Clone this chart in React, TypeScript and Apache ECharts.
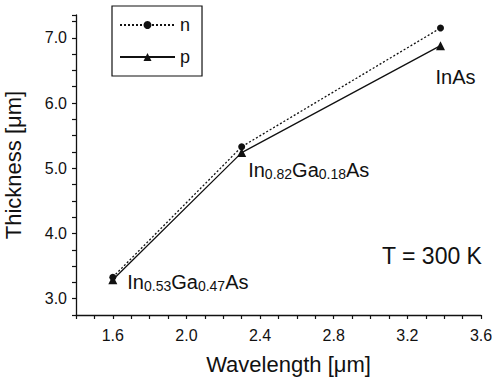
import React, { useEffect, useRef } from "react";
import * as echarts from "echarts";

const wavelengths = [1.6, 2.3, 3.38];
const nThickness = [3.33, 5.33, 7.15];
const pThickness = [3.29, 5.24, 6.88];
const compoundLabels = [
  "{n|In}{s|0.53}{n|Ga}{s|0.47}{n|As}",
  "{n|In}{s|0.82}{n|Ga}{s|0.18}{n|As}",
  "{n|InAs}",
];
const seriesNames = ["n", "p"];
const annotation = "T = 300 K";
const xTitle = "Wavelength [\u03bcm]";
const yTitle = "Thickness [\u03bcm]";

const FONT = "'Liberation Sans', Arial, sans-serif";

const labelPlacements = [
  { position: "right", distance: 8, offset: [2, 2] },
  { position: "right", distance: 5, offset: [-3, 17] },
  { position: "bottom", distance: 5, offset: [15, 12] },
];

export default function App() {
  const ref = useRef<HTMLDivElement>(null);
  useEffect(() => {
    if (!ref.current) return;
    document.body.style.margin = "0";
    const chart = echarts.init(ref.current, null, { renderer: "svg" });
    const rich = {
      n: { fontSize: 20, fontFamily: FONT, color: "#111" },
      s: { fontSize: 14, fontFamily: FONT, color: "#111", padding: [8, 0, 0, 0] },
    };
    chart.setOption({
      animation: false,
      backgroundColor: "#fff",
      grid: { left: 76, right: 11, top: 15, bottom: 65, containLabel: false, outerBoundsMode: "none" },
      legend: {
        left: 112,
        top: 6,
        orient: "vertical",
        borderColor: "#111",
        borderWidth: 1.2,
        padding: [10, 12, 10, 7],
        itemWidth: 55,
        itemHeight: 10,
        itemGap: 14,
        textStyle: { fontSize: 18, fontFamily: FONT, color: "#111" },
        data: seriesNames,
      },
      xAxis: {
        type: "value",
        min: 1.4,
        max: 3.6,
        interval: 0.1,
        splitLine: { show: false },
        axisLine: { lineStyle: { color: "#111", width: 1.3 } },
        axisTick: { length: 4, lineStyle: { color: "#111", width: 1.2 } },
        axisLabel: {
          margin: 12,
          fontSize: 16,
          fontFamily: FONT,
          color: "#111",
          showMinLabel: true,
          showMaxLabel: true,
          hideOverlap: false,
          formatter: (v: number) => {
            const k = Math.round(v * 10);
            return k % 4 === 0 ? (k / 10).toFixed(1) : "";
          },
        },
        name: xTitle,
        nameLocation: "middle",
        nameGap: 38,
        nameTextStyle: { fontSize: 22, fontFamily: FONT, color: "#111", padding: [0, 0, 0, 20] },
      },
      yAxis: {
        type: "value",
        min: 2.75,
        max: 7.35,
        interval: 0.25,
        splitLine: { show: false },
        axisLine: { show: true, lineStyle: { color: "#111", width: 1.3 } },
        axisTick: { show: true, length: 4, lineStyle: { color: "#111", width: 1.2 } },
        axisLabel: {
          margin: 9,
          fontSize: 16,
          fontFamily: FONT,
          color: "#111",
          formatter: (v: number) => {
            const k = Math.round(v * 4);
            return k % 4 === 0 ? (k / 4).toFixed(1) : "";
          },
        },
        name: yTitle,
        nameLocation: "middle",
        nameGap: 52,
        nameTextStyle: { fontSize: 22, fontFamily: FONT, color: "#111" },
      },
      series: [
        {
          name: seriesNames[0],
          type: "line",
          data: wavelengths.map((x, i) => [x, nThickness[i]]),
          symbol: "circle",
          symbolSize: 7,
          itemStyle: { color: "#111" },
          lineStyle: { color: "#111", width: 1.3, type: [2, 2] },
          z: 3,
        },
        {
          name: seriesNames[1],
          type: "line",
          data: wavelengths.map((x, i) => ({
            value: [x, pThickness[i]],
            label: {
              show: true,
              formatter: compoundLabels[i],
              rich,
              position: labelPlacements[i].position,
              distance: labelPlacements[i].distance,
              offset: labelPlacements[i].offset,
            },
          })),
          symbol: "triangle",
          symbolSize: 9,
          itemStyle: { color: "#111" },
          lineStyle: { color: "#111", width: 1.3 },
          z: 4,
        },
      ],
      graphic: [
        {
          type: "text",
          left: 382,
          top: 244,
          style: { text: annotation, fontSize: 23, fontFamily: FONT, fill: "#111" },
        },
      ],
    });
    return () => chart.dispose();
  }, []);
  return <div ref={ref} style={{ width: 492, height: 380 }} />;
}
